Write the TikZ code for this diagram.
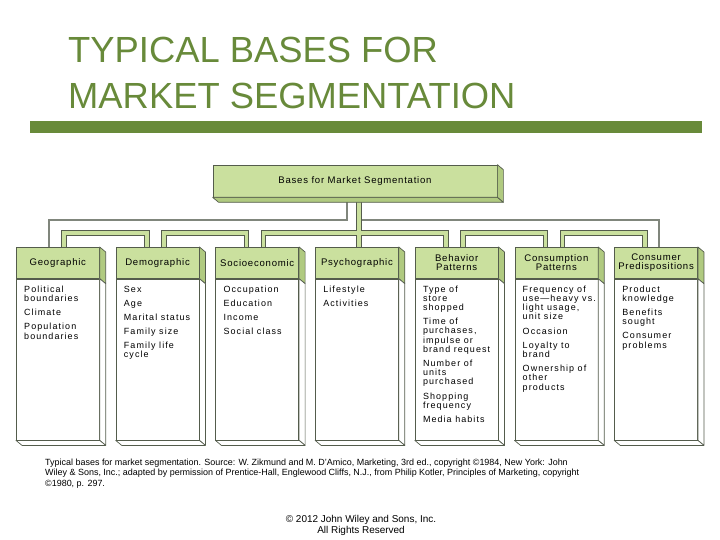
\documentclass[tikz,border=0pt]{standalone}
\usepackage{fontspec}
\setmainfont{Liberation Sans}
\newfontfamily\headfont[LetterSpace=8]{Liberation Sans}
\newfontfamily\itemfont[LetterSpace=12]{Liberation Sans}
\usetikzlibrary{positioning, backgrounds}

\definecolor{titlegreen}{RGB}{104,138,58}
\definecolor{boxgreen}{RGB}{202,224,158}
\definecolor{sidegreen}{RGB}{176,202,128}
\definecolor{edgegray}{RGB}{84,92,76}
\definecolor{railgray}{RGB}{128,134,124}

\newcommand{\baselist}[1]{\begin{tabular}[t]{@{}l@{}}#1\end{tabular}}

\begin{document}
\begin{tikzpicture}[x=1bp,y=-1bp,node distance=16bp]

		\tikzset{title/.style={inner sep=0pt, text=titlegreen,
				font=\fontsize{36.5}{40}\selectfont}}
		\tikzset{head box/.style={draw=edgegray, line width=0.7bp,
				fill=boxgreen, minimum width=83bp, minimum height=31bp,
				inner sep=1bp, align=center,
				font={\headfont\fontsize{9.6}{8.8}\selectfont}}}
		\tikzset{top box/.style={head box, minimum width=284bp,
				minimum height=32bp}}
		\tikzset{body box/.style={draw=edgegray, line width=0.7bp,
				fill=white, minimum width=83bp, minimum height=161bp,
				inner sep=0pt}}
		\tikzset{item text/.style={anchor=north west, inner sep=0pt,
				xshift=8bp, yshift=-7bp,
				font={\itemfont\fontsize{9}{9}\selectfont}}}
		\tikzset{side head/.style={draw=edgegray, line width=0.7bp,
				fill=sidegreen, line join=round}}
		\tikzset{side body/.style={draw=edgegray, line width=0.7bp,
				fill=white, line join=round}}
		\tikzset{pipe/.style={draw=edgegray, line width=1bp,
				double=boxgreen, double distance=3.6bp}}
		\tikzset{rail/.style={draw=railgray, line width=1.5bp}}
		\tikzset{note/.style={inner sep=0pt, anchor=base west,
				font=\fontsize{9}{10}\selectfont}}

	\useasboundingbox (0,0) rectangle (720,540);

	% heading
	\node[title, anchor=base west] (title1) at (68,63) {TYPICAL BASES FOR};
	\node[title, anchor=base west] (title2) at (68,109) {MARKET SEGMENTATION};
	\fill[titlegreen] (30,121) rectangle (702,133);

	% chart
	\node[top box] (bases) at (355,181) {Bases for Market Segmentation};

	\node[head box, anchor=north west] (geoH) at (16,247) {Geographic};
	\node[head box, right=of geoH] (demH) {Demographic};
	\node[head box, right=of demH] (socH) {Socioeconomic};
	\node[head box, right=of socH] (psyH) {Psychographic};
	\node[head box, right=of psyH] (behH) {Behavior\\Patterns};
	\node[head box, right=of behH] (conH) {Consumption\\Patterns};
	\node[head box, right=of conH] (preH) {Consumer\\Predispositions};

	\foreach \c in {geo,dem,soc,psy,beh,con,pre}
		\node[body box, below=0pt of \c H] (\c B) {};

	\foreach \c in {geo,dem,soc,psy,beh,con,pre} {
		\filldraw[side head] (\c H.north east) -- ++(6,5)
			-- ([shift={(6,5)}]\c H.south east) -- (\c H.south east) -- cycle;
		\filldraw[side body] (\c B.north east) -- ([shift={(6,5)}]\c B.north east)
			-- ([shift={(6,5)}]\c B.south east) -- (\c B.south east) -- cycle;
		\filldraw[side body] (\c B.south west) -- ([shift={(6,5)}]\c B.south west)
			-- ([shift={(6,5)}]\c B.south east) -- (\c B.south east) -- cycle;
	}
	\filldraw[side head] (bases.north east) -- ++(6,5)
		-- ([shift={(6,5)}]bases.south east) -- (bases.south east) -- cycle;
	\filldraw[side head] (bases.south west) -- ([shift={(6,5)}]bases.south west)
		-- ([shift={(6,5)}]bases.south east) -- (bases.south east) -- cycle;

	\node[item text] (geoL) at (geoB.north west)
		{\baselist{Political\\boundaries\\[5bp]Climate\\[5bp]Population\\boundaries}};
	\node[item text] (demL) at (demB.north west)
		{\baselist{Sex\\[5bp]Age\\[5bp]Marital status\\[5bp]Family size\\[5bp]Family life\\cycle}};
	\node[item text] (socL) at (socB.north west)
		{\baselist{Occupation\\[5bp]Education\\[5bp]Income\\[5bp]Social class}};
	\node[item text] (psyL) at (psyB.north west)
		{\baselist{Lifestyle\\[5bp]Activities}};
	\node[item text] (behL) at (behB.north west)
		{\baselist{Type of\\store\\shopped\\[5bp]Time of\\purchases,\\impulse or\\brand request\\[5bp]Number of\\units\\purchased\\[5bp]Shopping\\frequency\\[5bp]Media habits}};
	\node[item text] (conL) at (conB.north west)
		{\baselist{Frequency of\\use—heavy vs.\\light usage,\\unit size\\[5bp]Occasion\\[5bp]Loyalty to\\brand\\[5bp]Ownership of\\other\\products}};
	\node[item text] (preL) at (preB.north west)
		{\baselist{Product\\knowledge\\[5bp]Benefits\\sought\\[5bp]Consumer\\problems}};

	\coordinate (stem) at ([xshift=4bp]bases.south);
	\coordinate (joint) at ([yshift=14bp]stem |- psyH.north);

	\begin{scope}[on background layer]
	\draw[rail]
		([xshift=-8bp]bases.south) |- ([xshift=33bp,yshift=27bp]geoH.north west)
			-- ([xshift=33bp]geoH.north west)
		([yshift=27bp]stem |- psyH.north) -| ([xshift=45bp]preH.north west);
	\draw[pipe]
		(stem) -- (stem |- psyH.north)
		([xshift=48bp]geoH.north west) |- ([xshift=31bp,yshift=14bp]demH.north west)
			-- ([xshift=31bp]demH.north west)
		([xshift=48bp]demH.north west) |- ([xshift=31bp,yshift=14bp]socH.north west)
			-- ([xshift=31bp]socH.north west)
		([xshift=48bp]socH.north west) |- (joint) -| ([xshift=31bp]behH.north west)
		([xshift=48bp]behH.north west) |- ([xshift=31bp,yshift=14bp]conH.north west)
			-- ([xshift=31bp]conH.north west)
		([xshift=48bp]conH.north west) |- ([xshift=31bp,yshift=14bp]preH.north west)
			-- ([xshift=31bp]preH.north west);
	\end{scope}

	% source and footer
	\node[note] (src1) at (45,465) {Typical bases for market segmentation. Source: W. Zikmund and M. D'Amico, Marketing, 3rd ed., copyright ©1984, New York: John};
	\node[note] (src2) at (45,475.5) {Wiley \& Sons, Inc.; adapted by permission of Prentice-Hall, Englewood Cliffs, N.J., from Philip Kotler, Principles of Marketing, copyright};
	\node[note] (src3) at (45,486) {©1980, p. 297.};

	\node[inner sep=0pt, anchor=base, font=\fontsize{10}{11}\selectfont] (copy1) at (361,522) {© 2012 John Wiley and Sons, Inc.};
	\node[inner sep=0pt, anchor=base, font=\fontsize{10}{11}\selectfont] (copy2) at (361,533) {All Rights Reserved};
	\end{tikzpicture}
\end{document}
